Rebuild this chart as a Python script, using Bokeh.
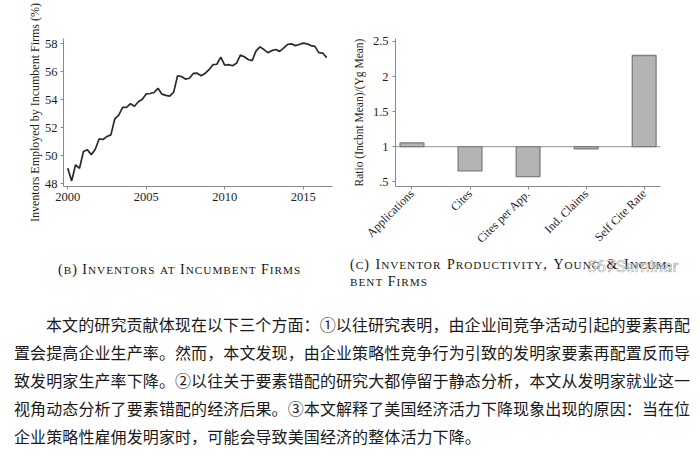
import math
import html
from bokeh.plotting import figure
from bokeh.models import Range1d, FixedTicker, Span, Div
from bokeh.layouts import column, row
from bokeh.embed import file_html
from bokeh.resources import INLINE

# ---------------- data ----------------
quarters = [
    2000.00, 2000.25, 2000.50, 2000.75,
    2001.00, 2001.25, 2001.50, 2001.75,
    2002.00, 2002.25, 2002.50, 2002.75,
    2003.00, 2003.25, 2003.50, 2003.75,
    2004.00, 2004.25, 2004.50, 2004.75,
    2005.00, 2005.25, 2005.50, 2005.75,
    2006.00, 2006.25, 2006.50, 2006.75,
    2007.00, 2007.25, 2007.50, 2007.75,
    2008.00, 2008.25, 2008.50, 2008.75,
    2009.00, 2009.25, 2009.50, 2009.75,
    2010.00, 2010.25, 2010.50, 2010.75,
    2011.00, 2011.25, 2011.50, 2011.75,
    2012.00, 2012.25, 2012.50, 2012.75,
    2013.00, 2013.25, 2013.50, 2013.75,
    2014.00, 2014.25, 2014.50, 2014.75,
    2015.00, 2015.25, 2015.50, 2015.75,
    2016.00, 2016.25, 2016.50,
]
incumbent_share = [
    49.10, 48.20, 49.35, 49.10,
    50.30, 50.43, 50.08, 50.44,
    51.20, 51.16, 51.38, 51.49,
    52.64, 52.91, 53.45, 53.45,
    53.72, 53.54, 53.86, 54.04,
    54.42, 54.45, 54.52, 54.82,
    54.40, 54.31, 54.26, 54.55,
    55.72, 55.66, 55.48, 55.54,
    55.88, 55.90, 55.72, 55.88,
    56.15, 56.51, 56.54, 57.05,
    56.47, 56.51, 56.43, 56.61,
    57.19, 57.08, 56.88, 56.80,
    57.50, 57.78, 57.59, 57.37,
    57.51, 57.59, 57.46, 57.69,
    57.95, 58.00, 57.87, 57.95,
    58.05, 58.00, 57.87, 57.82,
    57.37, 57.33, 57.01,
]
left_x_ticks = [2000, 2005, 2010, 2015]
left_y_ticks = [48, 50, 52, 54, 56, 58]
left_y_label = "Inventors Employed by Incumbent Firms (%)"

categories = ["Applications", "Cites", "Cites per App.", "Ind. Claims", "Self Cite Rate"]
ratios = [1.055, 0.655, 0.575, 0.968, 2.30]
right_y_ticks = [0.5, 1, 1.5, 2, 2.5]
right_y_tick_labels = [".5", "1", "1.5", "2", "2.5"]
right_y_label = "Ratio (Incbnt Mean)/(Yg Mean)"
baseline_ratio = 1

caption_b = "(b) Inventors at Incumbent Firms"
caption_c_line1 = ["(c)", "Inventor", "Productivity,", "Young", "&", "Incum-"]
caption_c_line2 = "bent Firms"
watermark = "567Seminar"
paragraph_lines = [
    "本文的研究贡献体现在以下三个方面：①以往研究表明，由企业间竞争活动引起的要素再配",
    "置会提高企业生产率。然而，本文发现，由企业策略性竞争行为引致的发明家要素再配置反而导",
    "致发明家生产率下降。②以往关于要素错配的研究大都停留于静态分析，本文从发明家就业这一",
    "视角动态分析了要素错配的经济后果。③本文解释了美国经济活力下降现象出现的原因：当在位",
    "企业策略性雇佣发明家时，可能会导致美国经济的整体活力下降。",
]

SERIF = "Liberation Serif"
AXIS_COLOR = "#8a8a8a"
TEXT_COLOR = "#1e1e1e"


def style_axis(ax):
    ax.axis_line_color = AXIS_COLOR
    ax.axis_line_width = 1
    ax.major_tick_line_color = AXIS_COLOR
    ax.minor_tick_line_color = None
    ax.major_tick_in = 0
    ax.major_tick_out = 3
    ax.major_label_text_font = SERIF
    ax.major_label_text_font_size = "12.5px"
    ax.major_label_text_color = TEXT_COLOR
    ax.axis_label_text_font = SERIF
    ax.axis_label_text_font_style = "normal"
    ax.axis_label_text_font_size = "12px"
    ax.axis_label_text_color = TEXT_COLOR


# ---------------- left chart ----------------
pL = figure(width=345, height=258, output_backend="svg", toolbar_location=None,
            x_range=Range1d(1999.73, 2016.87), y_range=Range1d(47.8, 58.38),
            min_border_left=63, min_border_right=13, min_border_top=38, min_border_bottom=24)
pL.line(quarters, incumbent_share, line_color="#2a2a2a", line_width=1.7)
pL.xgrid.visible = False
pL.ygrid.visible = False
pL.outline_line_color = None
for ax in (pL.xaxis[0], pL.yaxis[0]):
    style_axis(ax)
pL.xaxis.ticker = FixedTicker(ticks=left_x_ticks)
pL.yaxis.ticker = FixedTicker(ticks=left_y_ticks)
pL.xaxis.major_label_standoff = 3
pL.yaxis.major_label_standoff = 3
pL.yaxis.axis_label = left_y_label
pL.yaxis.axis_label_standoff = 0

# ---------------- right chart ----------------
idx = list(range(len(categories)))
pR = figure(width=355, height=258, output_backend="svg", toolbar_location=None,
            x_range=Range1d(-0.284, 4.281), y_range=Range1d(0.433, 2.542),
            min_border_left=50, min_border_right=40, min_border_top=33, min_border_bottom=72)
pR.add_layout(Span(location=baseline_ratio, dimension="width", line_color="#a8a8a8",
                   line_width=1.3, level="underlay"))
pR.vbar(x=idx, bottom=baseline_ratio, top=ratios, width=0.41,
        fill_color="#b4b4b4", line_color="#7d7d7d", line_width=1.3)
pR.xgrid.visible = False
pR.ygrid.visible = False
pR.outline_line_color = None
for ax in (pR.xaxis[0], pR.yaxis[0]):
    style_axis(ax)
pR.xaxis.ticker = FixedTicker(ticks=idx)
pR.xaxis.major_label_overrides = {i: c for i, c in zip(idx, categories)}
pR.xaxis.major_label_orientation = math.pi / 4
pR.xaxis.major_label_text_font_size = "12px"
pR.xaxis.major_label_standoff = 2
pR.yaxis.ticker = FixedTicker(ticks=right_y_ticks)
pR.yaxis.major_label_overrides = dict(zip(right_y_ticks, right_y_tick_labels))
pR.yaxis.major_label_standoff = 4
pR.yaxis.axis_label = right_y_label
pR.yaxis.axis_label_text_font_size = "11.5px"
pR.yaxis.axis_label_standoff = 5


# ---------------- captions + paragraph (HTML) ----------------
def small_caps(text, small=11.2):
    out, run = [], ""
    for ch in text:
        if ch.islower():
            run += ch.upper()
        else:
            if run:
                out.append(f'<span style="font-size:{small}px">{html.escape(run)}</span>')
                run = ""
            out.append(html.escape(ch))
    if run:
        out.append(f'<span style="font-size:{small}px">{html.escape(run)}</span>')
    return "".join(out)


cap_css = (f"position:absolute;font-family:'{SERIF}';font-size:14px;color:#151515;"
           "white-space:nowrap;letter-spacing:1px;line-height:14px;")
line1_words = "".join(f"<span>{small_caps(w)}</span>" for w in caption_c_line1)
para = "".join(
    f'<div style="white-space:nowrap;{"text-indent:32px;" if i == 0 else ""}">{html.escape(t)}</div>'
    for i, t in enumerate(paragraph_lines)
)
html_text = f"""
<div style="position:relative;width:700px;height:200px;">
  <div style="{cap_css}left:58px;top:5px;">{small_caps(caption_b)}</div>
  <div style="{cap_css}left:350px;top:0px;width:323px;display:flex;justify-content:space-between;align-items:baseline;">{line1_words}</div>
  <div style="{cap_css}left:350px;top:17px;">{small_caps(caption_c_line2)}</div>
  <div style="position:absolute;left:587px;top:-4px;font-family:Roboto;font-size:17px;color:rgba(255,255,255,0.75);
       -webkit-text-stroke:0.7px rgba(110,110,110,0.55);white-space:nowrap;">{watermark}</div>
  <div style="position:absolute;left:14px;top:52px;font-family:'Noto Sans CJK SC';font-size:16px;line-height:28px;
       color:#1a1a1a;letter-spacing:0.1px;">{para}</div>
</div>
"""
div = Div(text=html_text, width=700, height=200, margin=(0, 0, 0, 0))

layout = column(row(pL, pR), div)
open("out.html", "w").write(file_html(layout, INLINE))
